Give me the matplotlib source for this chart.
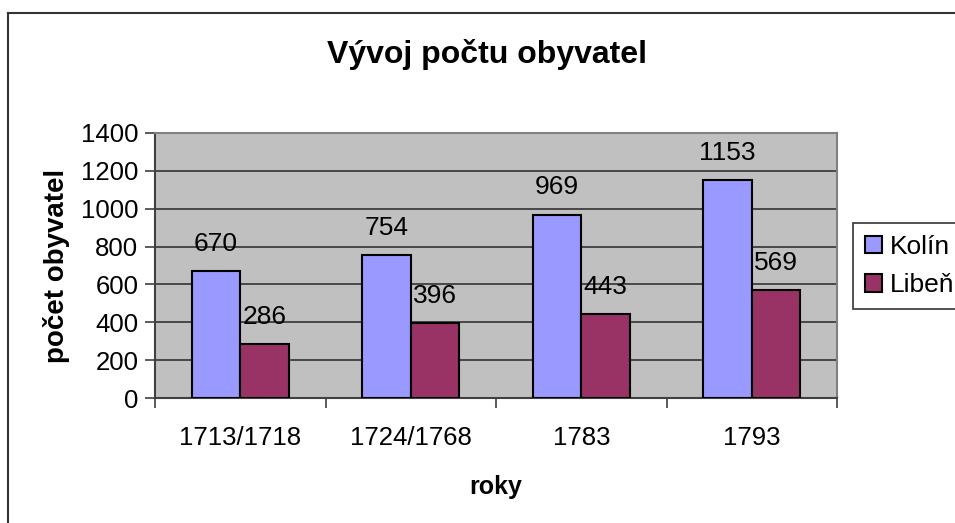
import matplotlib
matplotlib.use("Agg")
import matplotlib.pyplot as plt
from matplotlib.lines import Line2D
import numpy as np

plt.rcParams['font.family'] = ['Liberation Sans', 'DejaVu Sans']

# data
years = ['1713/1718', '1724/1768', '1783', '1793']
kolin = [670, 754, 969, 1153]
liben = [286, 396, 443, 569]
series_names = ['Kolín', 'Libeň']
colors = ['#9999FF', '#993366']

W, H = 955, 523
fig = plt.figure(figsize=(W / 100, H / 100), dpi=100)
ax = fig.add_axes([155 / W, 1 - 398 / H, (837 - 155) / W, (398 - 133) / H])
ax.set_facecolor('#C0C0C0')

x = np.arange(len(years))
w = 1 / 3.5
b1 = ax.bar(x - w / 2, kolin, w, color=colors[0], edgecolor='black', linewidth=1.5,
            label=series_names[0], zorder=3)
b2 = ax.bar(x + w / 2, liben, w, color=colors[1], edgecolor='black', linewidth=1.5,
            label=series_names[1], zorder=3)

for bars, vals in [(b1, kolin), (b2, liben)]:
    for rect, v in zip(bars, vals):
        ax.annotate(str(v), (rect.get_x() + rect.get_width() / 2, v),
                    xytext=(0, 19.5), textcoords='offset points',
                    ha='center', va='center', fontsize=19, zorder=4)

ax.set_xlim(-0.5, 3.5)
ax.set_ylim(0, 1400)
ax.set_yticks(range(0, 1401, 200))
ax.yaxis.grid(True, color='#333333', linewidth=1.2, zorder=1)
ax.tick_params(axis='y', labelsize=18.5, length=7, width=1.2, color='#404040', pad=5)

ax.set_xticks(x)
ax.set_xticklabels(years, fontsize=18.5)
ax.set_xticks(np.arange(-0.5, 4, 1), minor=True)
ax.tick_params(axis='x', which='major', length=0, pad=20)
ax.tick_params(axis='x', which='minor', length=7, width=1.2, color='#404040')

for s in ['top', 'right']:
    ax.spines[s].set_color('#808080')
    ax.spines[s].set_linewidth(1.5)
for s in ['left', 'bottom']:
    ax.spines[s].set_color('#404040')
    ax.spines[s].set_linewidth(1.5)

ax.set_xlabel('roky', fontsize=18, fontweight='bold', labelpad=18)
ax.set_ylabel('počet obyvatel', fontsize=20, fontweight='bold', labelpad=8)

fig.text(487 / W, 1 - 55 / H, 'Vývoj počtu obyvatel', ha='center', va='center',
         fontsize=23, fontweight='bold')

leg = fig.legend(handles=[b1, b2], loc='upper left', bbox_to_anchor=(853 / W, 1 - 223 / H),
                 fontsize=19, frameon=True, fancybox=False, edgecolor='black',
                 handlelength=0.65, handleheight=0.65, handletextpad=0.3,
                 labelspacing=0.55, borderpad=0.45, borderaxespad=0)
leg.get_frame().set_linewidth(1.2)

# chart area border
fig.add_artist(Line2D([8 / W, 8 / W], [0, 1 - 13 / H], color='#333333', lw=1.5,
                      transform=fig.transFigure))
fig.add_artist(Line2D([8 / W, 1], [1 - 13 / H, 1 - 13 / H], color='#333333', lw=1.5,
                      transform=fig.transFigure))

fig.savefig('out.png', dpi=100)
